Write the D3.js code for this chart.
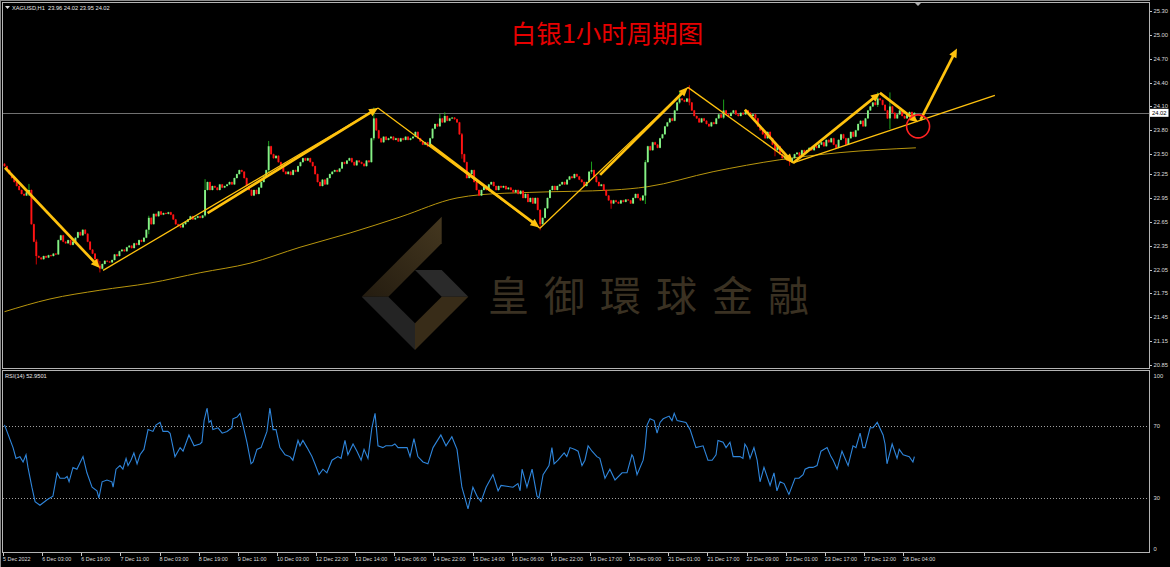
<!DOCTYPE html>
<html>
<head>
<meta charset="utf-8">
<script src="https://cdn.jsdelivr.net/npm/d3@7"></script>
<style>
  html, body { margin: 0; padding: 0; background: #000; }
  svg { display: block; }
</style>
</head>
<body>
<svg id="chart"></svg>
<script>
const width = 1170;
const height = 567;

// XAGUSD H1 closes, one per bar (bar 0 = 5 Dec 2022)
const closes = [
  23.35, 23.30, 23.25, 23.20, 23.15, 23.10, 23.05, 23.00, 22.98, 23.02,
  23.05, 22.62, 22.40, 22.22, 22.20, 22.18, 22.22, 22.20, 22.23, 22.22,
  22.25, 22.24, 22.42, 22.48, 22.40, 22.38, 22.42, 22.36, 22.40, 22.45,
  22.52, 22.48, 22.55, 22.50, 22.40, 22.30, 22.25, 22.18, 22.10, 22.06,
  22.12, 22.16, 22.15, 22.14, 22.17, 22.24, 22.22, 22.28, 22.30, 22.28,
  22.33, 22.35, 22.32, 22.38, 22.36, 22.42, 22.40, 22.45, 22.55, 22.70,
  22.62, 22.75, 22.72, 22.78, 22.74, 22.76, 22.75, 22.77, 22.74, 22.68,
  22.62, 22.60, 22.58, 22.62, 22.65, 22.68, 22.72, 22.68, 22.70, 22.72,
  22.70, 22.73, 23.05, 23.15, 23.05, 23.10, 23.08, 23.05, 23.12, 23.08,
  23.10, 23.12, 23.15, 23.12, 23.20, 23.25, 23.30, 23.28, 23.20, 23.10,
  23.05, 22.98, 23.05, 23.00, 23.08, 23.15, 23.22, 23.30, 23.60, 23.50,
  23.45, 23.48, 23.40, 23.35, 23.28, 23.25, 23.28, 23.24, 23.30, 23.28,
  23.35, 23.40, 23.45, 23.42, 23.45, 23.40, 23.35, 23.25, 23.15, 23.10,
  23.18, 23.12, 23.20, 23.25, 23.28, 23.30, 23.28, 23.32, 23.40, 23.38,
  23.42, 23.45, 23.40, 23.36, 23.42, 23.40, 23.38, 23.35, 23.42, 23.40,
  23.70, 23.95, 23.80, 23.70, 23.65, 23.72, 23.68, 23.70, 23.72, 23.68,
  23.70, 23.66, 23.70, 23.68, 23.72, 23.68, 23.70, 23.72, 23.78, 23.70,
  23.66, 23.62, 23.65, 23.60, 23.70, 23.82, 23.88, 23.85, 23.95, 23.90,
  23.98, 23.92, 23.95, 23.96, 23.94, 23.90, 23.75, 23.50, 23.40, 23.20,
  23.25, 23.30, 23.15, 23.05, 22.98, 23.05, 23.10, 23.05, 23.12, 23.15,
  23.10, 23.05, 23.10, 23.08, 23.10, 23.06, 23.08, 23.05, 23.02, 23.05,
  23.00, 23.04, 22.95, 23.00, 22.90, 22.95, 22.88, 22.95, 22.80, 22.62,
  22.70, 22.82, 22.95, 23.05, 23.10, 23.05, 23.10, 23.12, 23.15, 23.12,
  23.18, 23.22, 23.20, 23.25, 23.22, 23.18, 23.15, 23.10, 23.15, 23.28,
  23.30, 23.22, 23.15, 23.10, 23.12, 23.05, 22.98, 22.92, 22.88, 22.92,
  22.90, 22.88, 22.92, 22.90, 22.93, 22.92, 22.88, 22.95, 23.00, 22.95,
  22.92, 22.98, 23.40, 23.60, 23.55, 23.65, 23.62, 23.58, 23.70, 23.75,
  23.85, 23.90, 23.95, 23.92, 24.05, 24.15, 24.20, 24.18, 24.16, 24.20,
  24.15, 24.05, 23.98, 23.95, 23.90, 23.95, 23.92, 23.88, 23.85, 23.90,
  23.88, 23.95, 24.00, 23.96, 24.05, 24.00, 23.98, 24.02, 24.05, 24.00,
  23.98, 24.02, 24.00, 24.05, 24.02, 23.98, 24.00, 23.95, 23.85, 23.80,
  23.75, 23.70, 23.78, 23.70, 23.62, 23.55, 23.60, 23.50, 23.45, 23.48,
  23.42, 23.40, 23.45, 23.50, 23.52, 23.48, 23.55, 23.52, 23.55, 23.58,
  23.55, 23.60, 23.58, 23.62, 23.65, 23.60, 23.68, 23.65, 23.70, 23.62,
  23.58, 23.68, 23.75, 23.70, 23.62, 23.70, 23.78, 23.72, 23.80, 23.88,
  23.92, 23.85, 23.95, 24.05, 24.10, 24.15, 24.12, 24.20, 24.18, 24.12,
  24.05, 23.95, 24.10, 24.02, 23.95, 24.00, 24.05, 23.98, 23.95, 24.00,
  24.03, 23.96, 24.02
];
const firstOpen = 23.38;

// bars with visible wicks: [bar, high, low]
const spikes = [
  [10, 23.12, 22.98], [13, 22.42, 22.12], [39, 22.15, 22.02], [59, 22.72, 22.50],
  [82, 23.18, 22.72], [108, 23.66, 23.28], [151, 24.08, 23.68], [178, 24.0, 23.85],
  [180, 24.02, 23.9], [187, 23.76, 23.45], [219, 22.80, 22.55], [240, 23.40, 23.26],
  [248, 22.92, 22.82], [262, 23.42, 22.88], [276, 24.28, 24.14], [280, 24.36, 24.12],
  [294, 24.18, 23.95], [315, 23.62, 23.48], [321, 23.45, 23.36], [357, 24.27, 24.10],
  [362, 24.27, 23.82]
];

// moving average knots: bar index and value
const maBars = [0, 18.6, 39, 59.5, 80, 100.4, 120.8, 141.3, 161.7, 185, 194.4, 214.8, 248.8, 262.7, 289.7, 317, 341.6, 372.6];
const maValues = [21.52, 21.68, 21.79, 21.88, 22.01, 22.13, 22.33, 22.51, 22.71, 22.95, 22.99, 23.02, 23.05, 23.09, 23.28, 23.43, 23.52, 23.58];

// RSI(14): [bar, value]
const rsiPoints = [
  [0,70.6],[3.5,58],[4.7,52],[6.3,53],[7.6,50],[8.8,54],[9.6,47],[11.2,36],[12.5,28],[14.5,26],
  [17.4,29],[19.8,31],[21.5,44],[22.7,41],[24.7,41],[25.6,42],[26.4,39],[28,47],[29.6,46],[32.1,53],
  [33.7,44],[35.8,36],[37.8,34],[38.6,30],[39.9,39],[41.9,40],[43.9,39],[44.4,36],[45.6,46],[47.2,48],
  [48.4,46],[49.7,52],[50.5,48],[51.7,51],[52.9,55],[54.2,49],[55.4,54],[57,57],[58.7,68],[60.7,67],
  [61.9,70.5],[63.6,72],[64.8,67],[66.8,67],[67.7,66],[69.7,53],[71.8,58],[73,56],[75.4,65],[77.5,59],
  [79.9,60],[80.7,61],[81.6,73],[82.8,80],[83.6,72],[84.4,73],[85.2,68],[87.3,69],[89,66],[91,67],
  [93,69],[93.4,74],[95.1,75],[96.3,77],[97.5,70.5],[99.1,61],[100.8,49],[101.6,50],[103.2,57],[104.9,58],
  [107.3,67],[108.5,80],[109.8,68],[111,68],[112.6,58],[114.7,54],[116.7,53],[117.9,51],[120,62],[120.8,59],
  [122,62],[123.7,58],[125.7,53],[126.9,49],[128.6,43],[130.2,46],[131.8,44],[133.9,51],[136.3,53],[137.6,52],
  [139.2,62],[140.4,54],[142.5,60],[144.1,56],[145.8,51],[147,57],[148.6,52],[150.2,69],[151.5,77],[152.7,59],
  [154.7,58],[155.9,59],[158.4,59],[159.6,60],[160.9,58],[164.6,58],[165.8,53],[167.4,63],[169,53],[171.1,50],
  [173.1,49],[175.2,58],[178.4,65],[180.5,59],[182.9,64],[185,57],[187,36],[189.5,24],[191.5,36],[193.2,31],
  [194.8,28],[196.9,36],[199.7,43],[201.8,34],[203,37],[207.9,36],[209.9,38],[210.8,34],[211.6,46],[213.6,36],
  [215.7,46],[217.7,31],[218.5,30],[220.2,43],[222.6,48],[223.8,58],[224.7,49],[226.3,51],[228.8,55],[229.9,53],
  [231.2,58],[233.2,57],[234.5,56],[236.1,48],[237.3,51],[238.6,59],[240.2,56],[242.2,53],[243.4,52],[245.5,41],
  [247.5,46],[249.6,40],[252.5,44],[254.5,44],[256.5,54],[257,53],[258.6,43],[261.1,51],[261.9,58],[262.7,70.5],
  [263.9,74],[265.6,73],[266.8,66],[268,72],[269.3,74],[271.7,75.5],[272.9,73],[273.8,77],[275,73],[278.6,72],
  [280.3,68],[282.7,58],[285.6,59],[287.6,51],[289.3,51],[290.9,54],[291.7,62],[293.8,61],[295,58],[296.6,61],
  [297.9,53],[300.7,53],[301.9,52],[302.7,60],[303.6,58],[304.8,52],[306.4,58],[307.7,51],[308.9,39],[310.5,47],
  [313,37],[314.6,44],[315.8,34],[317.1,39],[318.7,38],[320.7,32],[323.2,41],[324.8,41],[326.5,43],[327.3,46],
  [328.9,47],[330.5,47],[332.2,48],[333.8,56],[336.3,58],[337.9,53],[338.8,51],[340.4,46],[342.4,56],[344.9,48],
  [346.9,59],[348.1,58],[349.8,66],[351,58],[351.8,58],[353.9,69],[355.1,69],[356.8,72],[359.2,65],[360,60],
  [360.8,49],[362.9,60],[364.9,52],[365.8,57],[367.4,54],[369.9,53],[371.4,50],[372,52.95]
];

const priceTicks = [25.30, 25.00, 24.70, 24.40, 24.10, 23.80, 23.50, 23.25, 22.95, 22.65, 22.35, 22.05, 21.75, 21.45, 21.15, 20.85];
const rsiTicks = [100, 70, 30, 0];
const rsiLevels = [70, 30];
const timeLabels = [
  "5 Dec 2022", "6 Dec 03:00", "6 Dec 19:00", "7 Dec 11:00", "8 Dec 03:00", "8 Dec 19:00",
  "9 Dec 11:00", "10 Dec 03:00", "12 Dec 22:00", "13 Dec 14:00", "14 Dec 06:00", "14 Dec 22:00",
  "15 Dec 14:00", "16 Dec 06:00", "16 Dec 22:00", "19 Dec 17:00", "20 Dec 09:00", "21 Dec 01:00",
  "21 Dec 17:00", "22 Dec 09:00", "23 Dec 01:00", "23 Dec 17:00", "27 Dec 12:00", "28 Dec 04:00"
];
const barsPerLabel = 16;
const lastPrice = 24.02;

// hand drawn annotations, [bar, price]
const arrowSegments = [
  [[0.2, 23.33], [39, 22.07]],
  [[83, 22.76], [152.7, 24.08]],
  [[174, 23.62], [218.7, 22.58]],
  [[243.5, 23.24], [279.4, 24.34]],
  [[302.7, 24.06], [322.4, 23.39]],
  [[322.4, 23.39], [357.9, 24.27]],
  [[357.9, 24.27], [373.5, 23.90]],
  [[374.5, 23.93], [389.4, 24.83]]
];
const thinSegments = [
  [[40.3, 22.04], [152.7, 24.08]],
  [[152.7, 24.08], [218.9, 22.57]],
  [[218.9, 22.57], [279.4, 24.34]],
  [[279.4, 24.34], [322.4, 23.39]],
  [[322.4, 23.39], [404.9, 24.24]]
];
const circleMark = [373.5, 23.85];

const title = "白银1小时周期图";
const watermark = "皇御環球金融";
const header = "XAGUSD,H1  23.96 24.02 23.95 24.02";
const rsiHeader = "RSI(14) 52.9501";

const svg = d3.select("#chart").attr("width", width).attr("height", height);

const x = d3.scaleLinear().domain([0, 372]).range([4.5, 914.4]);
const y = d3.scaleLinear().domain([20.85, 25.30]).range([365, 11]);
const yRsi = d3.scaleLinear().domain([0, 100]).range([552, 372]);

const axisFont = "'Liberation Sans', Arial, sans-serif";
const gold = "#ffc20e";

svg.append("rect").attr("width", width).attr("height", height).attr("fill", "#000");

const defs = svg.append("defs");
defs.append("clipPath").attr("id", "mainClip")
  .append("rect").attr("x", 3).attr("y", 3).attr("width", 1146).attr("height", 365);
defs.append("clipPath").attr("id", "rsiClip")
  .append("rect").attr("x", 3).attr("y", 371).attr("width", 1146).attr("height", 181);
const grad = defs.append("linearGradient").attr("id", "logoGold")
  .attr("x1", "0%").attr("y1", "100%").attr("x2", "100%").attr("y2", "0%");
grad.append("stop").attr("offset", "0%").attr("stop-color", "#241c10");
grad.append("stop").attr("offset", "100%").attr("stop-color", "#44371f");

// watermark
const wm = svg.append("g").attr("class", "watermark");
const logoPanels = [
  { pts: [[361.7, 296.7], [441.7, 216.7], [441.7, 243.3], [388.3, 296.7]], fill: "url(#logoGold)" },
  { pts: [[415, 270], [441.7, 270], [468.3, 296.7], [441.7, 296.7]], fill: "#2a2a2a" },
  { pts: [[361.7, 296.7], [388.3, 296.7], [415, 323.3], [415, 350]], fill: "#242424" },
  { pts: [[415, 323.3], [441.7, 296.7], [468.3, 296.7], [415, 350]], fill: "#382c18" }
];
wm.selectAll("polygon")
  .data(logoPanels)
  .enter()
  .append("polygon")
  .attr("points", (d) => d.pts.map((p) => p.join(",")).join(" "))
  .attr("fill", (d) => d.fill);
wm.append("text")
  .attr("x", 488)
  .attr("y", 311)
  .attr("font-family", "'Noto Sans CJK TC', sans-serif")
  .attr("font-size", 41)
  .attr("letter-spacing", 15)
  .attr("fill", "#3a3122")
  .text(watermark);

// main panel
const main = svg.append("g").attr("clip-path", "url(#mainClip)");

main.append("line")
  .attr("x1", 3).attr("x2", 1149)
  .attr("y1", Math.round(y(lastPrice)) + 0.5).attr("y2", Math.round(y(lastPrice)) + 0.5)
  .attr("stroke", "#707070").attr("stroke-width", 1);

const maLine = d3.line()
  .x((d) => x(d[0]))
  .y((d) => y(d[1]))
  .curve(d3.curveMonotoneX);
main.append("path")
  .datum(maBars.map((b, i) => [b, maValues[i]]))
  .attr("d", maLine)
  .attr("fill", "none")
  .attr("stroke", "#b8960e")
  .attr("stroke-width", 1);

const spikeMap = new Map(spikes.map((s) => [s[0], s]));
const candles = closes.map((c, i) => {
  const o = i === 0 ? firstOpen : closes[i - 1];
  const s = spikeMap.get(i);
  return {
    i, o, c,
    h: s ? Math.max(s[1], o, c) : Math.max(o, c),
    l: s ? Math.min(s[2], o, c) : Math.min(o, c)
  };
});

const candleG = main.append("g").attr("class", "candles");
candleG.selectAll("line")
  .data(candles)
  .enter()
  .append("line")
  .attr("x1", (d) => x(d.i)).attr("x2", (d) => x(d.i))
  .attr("y1", (d) => y(d.h) - 0.5).attr("y2", (d) => y(d.l) + 0.5)
  .attr("stroke", (d) => (d.c >= d.o ? "#1fb31f" : "#e00000"))
  .attr("stroke-width", 0.9);
candleG.selectAll("rect")
  .data(candles)
  .enter()
  .append("rect")
  .attr("x", (d) => x(d.i) - 0.95)
  .attr("width", 1.9)
  .attr("y", (d) => y(Math.max(d.o, d.c)))
  .attr("height", (d) => Math.max(0.9, Math.abs(y(d.o) - y(d.c))))
  .attr("fill", (d) => (d.c >= d.o ? "#86f086" : "#ff1414"));

// annotations
const ann = main.append("g").attr("class", "annotations");
ann.selectAll("line.thin")
  .data(thinSegments)
  .enter()
  .append("line")
  .attr("class", "thin")
  .attr("x1", (d) => x(d[0][0])).attr("y1", (d) => y(d[0][1]))
  .attr("x2", (d) => x(d[1][0])).attr("y2", (d) => y(d[1][1]))
  .attr("stroke", gold)
  .attr("stroke-width", 1.3);

const arrows = arrowSegments.map((seg) => {
  const p0 = [x(seg[0][0]), y(seg[0][1])];
  const p1 = [x(seg[1][0]), y(seg[1][1])];
  const len = Math.hypot(p1[0] - p0[0], p1[1] - p0[1]);
  const ux = (p1[0] - p0[0]) / len;
  const uy = (p1[1] - p0[1]) / len;
  const headL = 9, headW = 4;
  const bx = p1[0] - ux * headL, by = p1[1] - uy * headL;
  return {
    p0,
    end: [bx + ux * 2, by + uy * 2],
    head: [p1, [bx - uy * headW, by + ux * headW], [bx + uy * headW, by - ux * headW]]
  };
});
ann.selectAll("line.thick")
  .data(arrows)
  .enter()
  .append("line")
  .attr("class", "thick")
  .attr("x1", (d) => d.p0[0]).attr("y1", (d) => d.p0[1])
  .attr("x2", (d) => d.end[0]).attr("y2", (d) => d.end[1])
  .attr("stroke", gold)
  .attr("stroke-width", 2.7);
ann.selectAll("polygon")
  .data(arrows)
  .enter()
  .append("polygon")
  .attr("points", (d) => d.head.map((p) => p.join(",")).join(" "))
  .attr("fill", gold);

ann.append("circle")
  .attr("cx", x(circleMark[0]))
  .attr("cy", y(circleMark[1]))
  .attr("r", 11.5)
  .attr("fill", "none")
  .attr("stroke", "#ff2222")
  .attr("stroke-width", 1.6);

svg.append("text")
  .attr("x", 607)
  .attr("y", 43)
  .attr("text-anchor", "middle")
  .attr("font-family", "'Noto Sans CJK SC', sans-serif")
  .attr("font-size", 25.5)
  .attr("fill", "#e60000")
  .text(title);

// header
svg.append("polygon").attr("points", "5,6 10,6 7.5,9").attr("fill", "#e0e0e0");
svg.append("text")
  .attr("x", 12).attr("y", 9.6)
  .attr("font-family", axisFont).attr("font-size", 5.7)
  .attr("fill", "#e8e8e8")
  .attr("xml:space", "preserve")
  .text(header);
svg.append("polygon").attr("points", "915,3 921,3 918,6").attr("fill", "#b0b0b0");

// RSI panel
const rsiG = svg.append("g").attr("clip-path", "url(#rsiClip)");
rsiG.selectAll("line")
  .data(rsiLevels)
  .enter()
  .append("line")
  .attr("x1", 3).attr("x2", 1149)
  .attr("y1", (d) => Math.round(yRsi(d)) + 0.5).attr("y2", (d) => Math.round(yRsi(d)) + 0.5)
  .attr("stroke", "#a0a0a0")
  .attr("stroke-width", 1)
  .attr("stroke-dasharray", "1,2");
rsiG.append("path")
  .datum(rsiPoints)
  .attr("d", d3.line().x((d) => x(d[0])).y((d) => yRsi(d[1])))
  .attr("fill", "none")
  .attr("stroke", "#2f86dc")
  .attr("stroke-width", 1.1);
svg.append("text")
  .attr("x", 5).attr("y", 377.5)
  .attr("font-family", axisFont).attr("font-size", 5.7)
  .attr("fill", "#e8e8e8")
  .text(rsiHeader);

// frames
const frame = svg.append("g").attr("fill", "none").attr("stroke", "#b4b4b4").attr("stroke-width", 1);
frame.append("rect").attr("x", 2.5).attr("y", 2.5).attr("width", 1147).attr("height", 366);
frame.append("rect").attr("x", 2.5).attr("y", 370.5).attr("width", 1147).attr("height", 182);
svg.append("line").attr("x1", 0.5).attr("x2", 0.5).attr("y1", 0).attr("y2", height)
  .attr("stroke", "#8a8a8a");
svg.append("line").attr("x1", 0).attr("x2", 1150).attr("y1", 0.5).attr("y2", 0.5)
  .attr("stroke", "#8a8a8a");

// price axis
const pAxis = svg.append("g").attr("class", "price-axis");
pAxis.selectAll("line")
  .data(priceTicks)
  .enter()
  .append("line")
  .attr("x1", 1150).attr("x2", 1152)
  .attr("y1", (d) => Math.round(y(d)) + 0.5).attr("y2", (d) => Math.round(y(d)) + 0.5)
  .attr("stroke", "#c8c8c8");
pAxis.selectAll("text")
  .data(priceTicks)
  .enter()
  .append("text")
  .attr("x", 1153.5)
  .attr("y", (d) => y(d) + 2)
  .attr("font-family", axisFont).attr("font-size", 5.8)
  .attr("fill", "#dcdcdc")
  .text((d) => d.toFixed(2));

pAxis.append("rect")
  .attr("x", 1150).attr("y", y(lastPrice) - 4)
  .attr("width", 18.5).attr("height", 8)
  .attr("fill", "#ffffff");
pAxis.append("text")
  .attr("x", 1152).attr("y", y(lastPrice) + 2)
  .attr("font-family", axisFont).attr("font-size", 5.8)
  .attr("fill", "#000")
  .text(lastPrice.toFixed(2));

// rsi axis
svg.selectAll("text.rsi-tick")
  .data(rsiTicks)
  .enter()
  .append("text")
  .attr("class", "rsi-tick")
  .attr("x", 1153.5)
  .attr("y", (d) => Math.min(551, Math.max(377.5, yRsi(d) + 2)))
  .attr("font-family", axisFont).attr("font-size", 5.8)
  .attr("fill", "#dcdcdc")
  .text((d) => d);

// time axis
const tAxis = svg.append("g").attr("class", "time-axis");
tAxis.selectAll("line")
  .data(timeLabels)
  .enter()
  .append("line")
  .attr("x1", (d, i) => Math.round(x(i * barsPerLabel) - 1.5) + 0.5)
  .attr("x2", (d, i) => Math.round(x(i * barsPerLabel) - 1.5) + 0.5)
  .attr("y1", 553).attr("y2", 556)
  .attr("stroke", "#c8c8c8");
tAxis.selectAll("text")
  .data(timeLabels)
  .enter()
  .append("text")
  .attr("x", (d, i) => x(i * barsPerLabel) - 1.5)
  .attr("y", 560.5)
  .attr("font-family", axisFont).attr("font-size", 5.4)
  .attr("fill", "#dcdcdc")
  .text((d) => d);
</script>
</body>
</html>
